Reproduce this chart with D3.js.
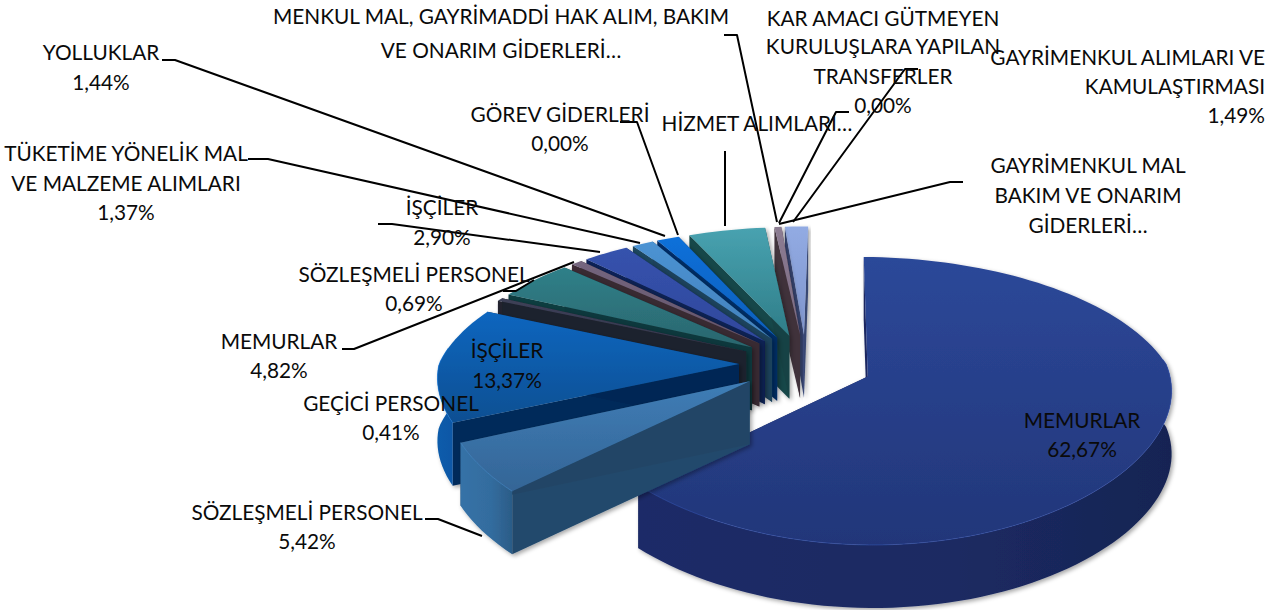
<!DOCTYPE html>
<html lang="tr">
<head>
<meta charset="utf-8">
<style>
html,body{margin:0;padding:0;background:#fff;overflow:hidden}
svg{display:block}
text{font-family:Lato,"Open Sans",sans-serif;font-size:20.8px;fill:#0a0a0a}
</style>
<script src="https://cdnjs.cloudflare.com/ajax/libs/d3/7.8.5/d3.min.js"></script>
</head>
<body>
<svg id="chart" width="1280" height="610"></svg>
<script>
// ---- data (percent shares, clockwise from 12 o'clock) ----
const categories = ["MEMURLAR","SÖZLEŞMELİ PERSONEL","İŞÇİLER","GEÇİCİ PERSONEL","MEMURLAR","SÖZLEŞMELİ PERSONEL","İŞÇİLER","TÜKETİME YÖNELİK MAL VE MALZEME ALIMLARI","YOLLUKLAR","GÖREV GİDERLERİ","HİZMET ALIMLARI","MENKUL MAL, GAYRİMADDİ HAK ALIM, BAKIM VE ONARIM GİDERLERİ","KAR AMACI GÜTMEYEN KURULUŞLARA YAPILAN TRANSFERLER","GAYRİMENKUL ALIMLARI VE KAMULAŞTIRMASI","GAYRİMENKUL MAL BAKIM VE ONARIM GİDERLERİ"];
const values = [62.67,5.42,13.37,0.41,4.82,0.69,2.90,1.37,1.44,0.00,4.94,0.45,0.00,1.49,0.03];
const topLight = ["#2c4899","#3f7db6","#0e66bf","#3d4058","#2f8089","#75667f","#3652ad","#4c93d3","#0b70da","#2a6fb0","#48a2b0","#8c7c92","#888888","#92abe3","#8fa0c8"];
const topDark  = ["#223679","#346596","#0c4f92","#33364c","#2b666e","#62536a","#2f489c","#4281bc","#0a5fbb","#2a6fb0","#2f7d88","#7a6a82","#888888","#7f94cc","#8090b8"];
const rimColor = ["#1b2a62","#336c9e","#0a56a2","#262a3a","#1a5258","#4e3e48","#1a3480","#2a6288","#05409a","#204f80","#1d5056","#4f3f4a","#555555","#4a5f96","#5a6a90"];
const sideColor= ["#1a2860","#23496c","#022a5a","#20242f","#113c40","#3c2c34","#0e2258","#1c4660","#022f6c","#1a3f66","#194748","#43343e","#444444","#3a4a78","#4a5a80"];

// label layout: lines of real text, anchor x, baselines, leader path
const labelLines = [
  {t:["MEMURLAR","62,67%"],x:1082,y:[428,457]},
  {t:["SÖZLEŞMELİ PERSONEL","5,42%"],x:307,y:[520,549],lead:[[425,519],[438,519],[482,536]]},
  {t:["İŞÇİLER","13,37%"],x:507,y:[358,388]},
  {t:["GEÇİCİ PERSONEL","0,41%"],x:391,y:[411,440]},
  {t:["MEMURLAR","4,82%"],x:279,y:[349,378],lead:[[342,349],[354,349],[574,262]]},
  {t:["SÖZLEŞMELİ PERSONEL","0,69%"],x:414,y:[282,311],lead:[[503,291],[516,291],[534,280]]},
  {t:["İŞÇİLER","2,90%"],x:442,y:[215,245],lead:[[378,224],[392,224],[600,252]]},
  {t:["TÜKETİME YÖNELİK MAL","VE MALZEME ALIMLARI","1,37%"],x:126,y:[161,191,220],lead:[[248,159],[268,159],[640,243]]},
  {t:["YOLLUKLAR","1,44%"],x:101,y:[60,90],lead:[[162,60],[175,60],[665,236]]},
  {t:["GÖREV GİDERLERİ","0,00%"],x:560,y:[122,151],lead:[[620,122],[637,122],[678,235]]},
  {t:["HİZMET ALIMLARI…"],x:757,y:[131],lead:[[725,151],[725,226]]},
  {t:["MENKUL MAL, GAYRİMADDİ HAK ALIM, BAKIM","VE ONARIM GİDERLERİ…"],x:501,y:[24,58],lead:[[724,35],[737,35],[777,222]]},
  {t:["KAR AMACI GÜTMEYEN","KURULUŞLARA YAPILAN","TRANSFERLER","0,00%"],x:883,y:[26,54,84,113],lead:[[849,112],[836,112],[779,223]]},
  {t:["GAYRİMENKUL ALIMLARI VE","KAMULAŞTIRMASI","1,49%"],x:1265,anchor:"end",y:[65,94,123],lead:[[918,69],[905,69],[793,222]]},
  {t:["GAYRİMENKUL MAL","BAKIM VE ONARIM","GİDERLERİ…"],x:1088,y:[173,203,233],lead:[[963,182],[950,182],[779,224]]}
];

// ---- projection of the tilted disc ----
const cx=806, cy=364, R=300, explode=67, tilt=0.452, persp=0.00056, depth=63, rotDeg=1.0;
const rot = rotDeg*Math.PI/180;
function proj(X,Y,z){
  const s = 1/(1+persp*Y);
  const sx = Y>0 ? s : 1/(1+persp*0.5*Y);
  return [cx+X*sx, cy-Y*tilt*s+z*depth];
}

const svg = d3.select("#chart");
const defs = svg.append("defs");
const f = defs.append("filter").attr("id","sh").attr("x","-10%").attr("y","-10%").attr("width","120%").attr("height","120%");
f.append("feDropShadow").attr("dx",2).attr("dy",2).attr("stdDeviation",2).attr("flood-color","#000").attr("flood-opacity",0.35);

const pie = d3.pie().sort(null).value(d=>d)(values);
const lineGen = d3.line();

const slices = pie.map((p,i)=>{
  const a0=p.startAngle+rot, a1=p.endAngle+rot, mid=(a0+a1)/2;
  return {i,a0,a1,mid,ax:explode*Math.sin(mid),ay:explode*Math.cos(mid),v:values[i]};
}).filter(d=>d.v>0.1);

// paint from back to front
slices.sort((a,b)=>Math.cos(b.mid)-Math.cos(a.mid));

const layer = svg.append("g");
slices.forEach(s=>{
  const i=s.i;
  const g = layer.append("g").attr("filter","url(#sh)");
  const n = Math.max(2,Math.ceil((s.a1-s.a0)/(Math.PI/90)));
  const angles = d3.range(n+1).map(k=>s.a0+(s.a1-s.a0)*k/n);
  const rim = z=>angles.map(a=>proj(s.ax+R*Math.sin(a),s.ay+R*Math.cos(a),z));
  const rimT=rim(0), rimB=rim(1);
  const apexT=proj(s.ax,s.ay,0), apexB=proj(s.ax,s.ay,1);

  // radial end faces
  const faceA=[apexT,rimT[0],rimB[0],apexB];
  const faceB=[apexT,rimT[n],rimB[n],apexB];
  [faceA,faceB].forEach((q,k)=>{
    const c = d3.color(sideColor[i]);
    g.append("path").attr("d",lineGen(q)+"Z").attr("fill",k===0?c.formatHex():c.darker(0.15).formatHex());
  });

  // outer wall, shaded along its length
  const wallGrad = defs.append("linearGradient").attr("id","w"+i).attr("gradientUnits","userSpaceOnUse")
    .attr("x1",d3.min(rimT,d=>d[0])).attr("x2",d3.max(rimT,d=>d[0])).attr("y1",0).attr("y2",0);
  const rc=d3.color(rimColor[i]);
  wallGrad.append("stop").attr("offset","0").attr("stop-color",rc.brighter(0.15).formatHex());
  wallGrad.append("stop").attr("offset","0.6").attr("stop-color",rc.formatHex());
  wallGrad.append("stop").attr("offset","1").attr("stop-color",rc.darker(0.45).formatHex());
  const front=[];
  for(let k=0;k<n;k++){ if(Math.cos((angles[k]+angles[k+1])/2)<0.12) front.push(k); }
  if(front.length){
    const top=front.map(k=>rimT[k]).concat([rimT[front[front.length-1]+1]]);
    const bot=front.map(k=>rimB[k]).concat([rimB[front[front.length-1]+1]]).reverse();
    g.append("path").attr("d",lineGen(top.concat(bot))+"Z").attr("fill","url(#w"+i+")");
  }

  // top face
  const tg = defs.append("linearGradient").attr("id","t"+i).attr("gradientUnits","userSpaceOnUse")
    .attr("x1",0).attr("x2",0)
    .attr("y1",d3.min(rimT.concat([apexT]),d=>d[1])).attr("y2",d3.max(rimT.concat([apexT]),d=>d[1]));
  tg.append("stop").attr("offset","0").attr("stop-color",topLight[i]);
  tg.append("stop").attr("offset","1").attr("stop-color",topDark[i]);
  g.append("path").attr("d",lineGen([apexT].concat(rimT))+"Z").attr("fill","url(#t"+i+")");
  // thin bevel on the near rim
  if(front.length){
    const edge=front.map(k=>rimT[k]).concat([rimT[front[front.length-1]+1]]);
    g.append("path").attr("d",lineGen(edge)).attr("fill","none").attr("stroke-opacity",0.5)
     .attr("stroke",d3.color(topLight[i]).brighter(0.5).formatHex()).attr("stroke-width",1);
  }
});

// leaders
const leaders = svg.append("g");
labelLines.filter(d=>d.lead).forEach(d=>{
  leaders.append("path").attr("d",lineGen(d.lead)).attr("fill","none")
    .attr("stroke","#000").attr("stroke-width",2).attr("stroke-linejoin","round");
});

// labels
const texts = svg.append("g");
labelLines.forEach(d=>{
  d.t.forEach((line,j)=>{
    texts.append("text").attr("x",d.x).attr("y",d.y[j])
      .attr("text-anchor",d.anchor||"middle").text(line);
  });
});
</script>
</body>
</html>
